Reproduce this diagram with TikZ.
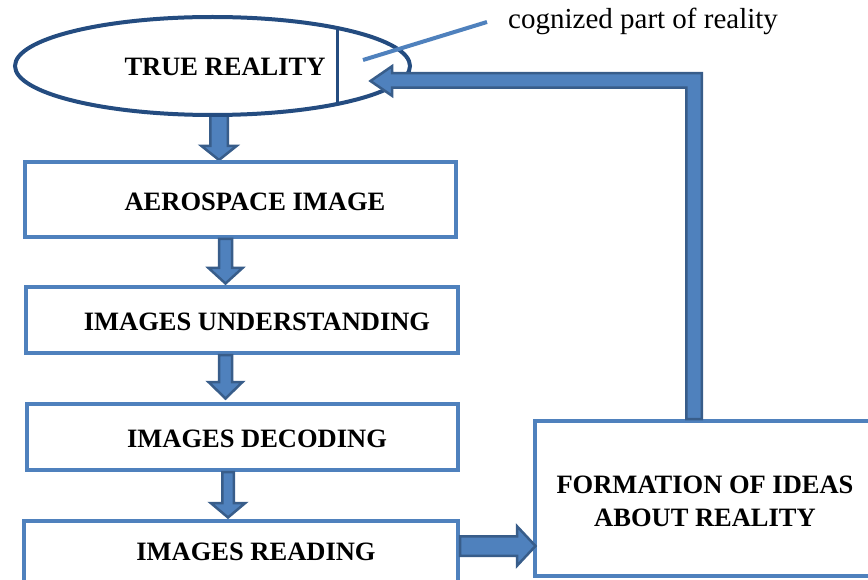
\documentclass[tikz,border=0pt]{standalone}
\usepackage{fontspec}
\setmainfont{Liberation Serif}
\usetikzlibrary{shapes.geometric}
\definecolor{boxblue}{RGB}{79,129,189}
\definecolor{arrowedge}{RGB}{56,93,138}
\definecolor{ellblue}{RGB}{36,76,128}
\tikzset{
  stepbox/.style={draw=boxblue, line width=4pt, fill=white, rectangle, inner sep=0pt, outer sep=0pt},
  lbl/.style={font=\bfseries\fontsize{26.5}{33}\selectfont, align=center, inner sep=0pt},
  blockarrow/.style={fill=boxblue, draw=arrowedge, line width=2.5pt, line join=miter},
}
% down block arrow: cx, ytop, yheadstart, ytip, shaft half, head half
\newcommand\dnblock[6]{%
  \path[blockarrow] (#1-#5,#2) -- (#1-#5,#3) -- (#1-#6,#3) -- (#1,#4) -- (#1+#6,#3) -- (#1+#5,#3) -- (#1+#5,#2) -- cycle;}
\begin{document}
\begin{tikzpicture}[x=1pt,y=-1pt]
\clip (0,0) rectangle (868,580);
\useasboundingbox (0,0) rectangle (868,580);
\fill[white] (0,0) rectangle (868,580);

% arrow from ellipse to first box (behind ellipse)
\dnblock{219}{100}{146}{160}{8.75}{17.5}

% ellipse
\node[draw=ellblue, line width=4pt, fill=white, ellipse, minimum width=395pt, minimum height=98pt, inner sep=0pt] (truth) at (212.5,66) {};
\node[lbl] (truthtxt) at (225,67) {TRUE REALITY};
\coordinate (chordtop) at (337,28);
\coordinate (chordbot) at (337,104);
\draw[ellblue, line width=3pt] (chordtop) -- (chordbot);

% boxes
\node[stepbox, minimum width=431pt, minimum height=75pt] (b1) at (240.5,199.5) {};
\node[stepbox, minimum width=432pt, minimum height=66pt] (b2) at (242,320) {};
\node[stepbox, minimum width=431pt, minimum height=66pt] (b3) at (242.5,437) {};
\node[stepbox, minimum width=434pt, minimum height=69pt] (b4) at (241,555.5) {};
\node[stepbox, minimum width=365pt, minimum height=155pt] (b5) at (717.5,498.5) {};

\node[lbl] (t1) at (255,202) {AEROSPACE IMAGE};
\node[lbl] (t2) at (257,322) {IMAGES UNDERSTANDING};
\node[lbl] (t3) at (257,439) {IMAGES DECODING};
\node[lbl] (t4) at (256,552) {IMAGES READING};
\node[lbl] (t5) at (705,501) {FORMATION OF IDEAS\\ABOUT REALITY};

% down arrows between boxes
\dnblock{225.5}{239}{268}{283.5}{6.5}{17}
\dnblock{225.5}{355}{382}{398.5}{6.5}{17}
\dnblock{228}{472}{503}{517.5}{5.75}{17.25}

% right arrow from reading to formation
\path[blockarrow] (460,536.25) -- (517,536.25) -- (517,526.25) -- (535.5,546) -- (517,565.75) -- (517,555.75) -- (460,555.75) -- cycle;

% feedback arrow
\path[blockarrow] (686.25,419) -- (686.25,87.75) -- (392,87.75) -- (392,95.75) -- (370.5,81) -- (392,66.25) -- (392,73.25) -- (701.75,73.25) -- (701.75,419) -- cycle;

% pointer and label
\coordinate (ptrA) at (363,60);
\coordinate (ptrB) at (487,22);
\draw[boxblue, line width=4pt] (ptrA) -- (ptrB);
\node[anchor=base west, inner sep=0pt, font=\fontsize{29}{33}\selectfont] (cog) at (508,29) {cognized part of reality};
\end{tikzpicture}
\end{document}
